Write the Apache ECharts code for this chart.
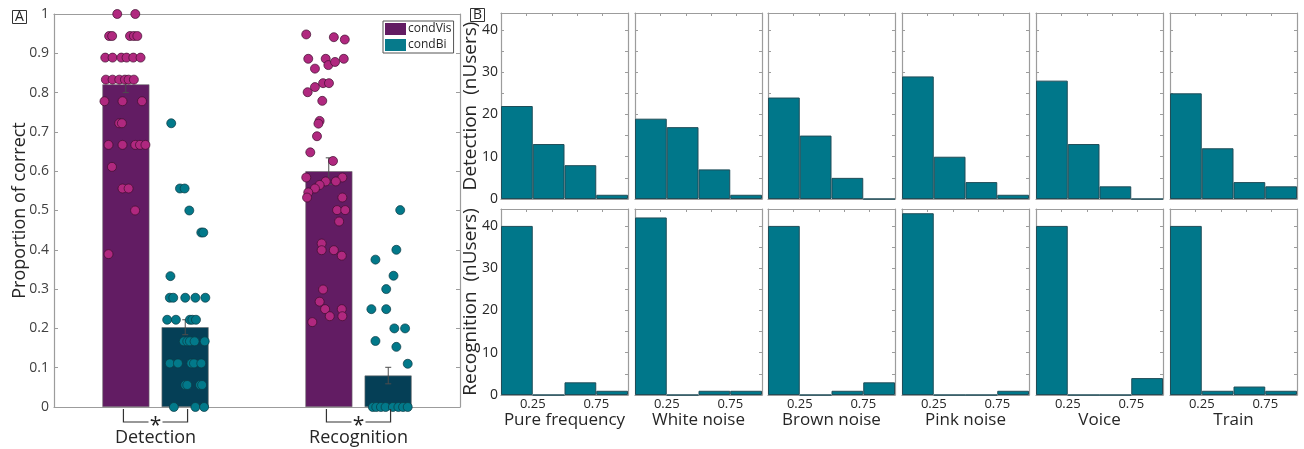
<!DOCTYPE html>
<html>
<head>
<meta charset="utf-8">
<script src="https://cdn.jsdelivr.net/npm/echarts@6/dist/echarts.min.js"></script>
<style>html,body{margin:0;padding:0;background:#fff}#c{width:1304px;height:449px}</style>
</head>
<body>
<div id="c"></div>
<script>
// ---------- Panel A data ----------
const categoriesA = ['Detection', 'Recognition'];
const meanVis = [0.821, 0.600];
const meanBi = [0.203, 0.080];
const seVis = [0.021, 0.034];
const seBi = [0.019, 0.021];

// individual participants (value, horizontal jitter in category units)
const detVisVal = [1,1, 0.944,0.944,0.944,0.944,0.944, 0.889,0.889,0.889,0.889,0.889,0.889,
  0.833,0.833,0.833,0.833,0.833,0.833, 0.778,0.778,0.778, 0.722,0.722,
  0.667,0.667,0.667,0.667,0.667, 0.611, 0.556,0.556, 0.5, 0.389];
const detVisJit = [-0.042,0.047, -0.082,-0.067,0.021,0.040,0.057, -0.101,-0.065,-0.022,0.004,0.037,0.073,
  -0.098,-0.065,-0.032,-0.004,0.014,0.040, -0.105,-0.016,0.080, -0.032,-0.019,
  -0.085,-0.016,0.047,0.070,0.097, -0.068, -0.016,0.014, 0.046, -0.085];

const detBiVal = [0.722, 0.556,0.556, 0.5, 0.444,0.444, 0.333,
  0.278,0.278,0.278,0.278,0.278, 0.222,0.222,0.222,0.222,0.222,
  0.167,0.167,0.167,0.167,0.167, 0.111,0.111,0.111,0.111,0.111,
  0.056,0.056,0.056,0.056, 0,0,0];
const detBiJit = [-0.069, -0.026,-0.003, 0.020, 0.079,0.089, -0.073,
  -0.076,-0.059,0,0.050,0.099, -0.089,-0.046,0.023,0.035,0.053,
  -0.007,0.010,0.023,0.046,0.096, -0.076,-0.036,0.030,0.043,0.079,
  0,0.010,0.073,0.083, -0.056,0.050,0.093];

const recVisVal = [0.948,0.941,0.935, 0.886,0.886,0.886, 0.861,0.870,0.878, 0.801,0.814,0.824,0.824,
  0.779, 0.728,0.721, 0.689, 0.648, 0.626, 0.584,0.584, 0.574,0.574, 0.565, 0.556, 0.546,
  0.533,0.533, 0.501,0.501, 0.472, 0.416, 0.399,0.399, 0.385, 0.299, 0.268, 0.249,0.249,
  0.231,0.231, 0.216];
const recVisJit = [-0.111,0.025,0.079, -0.101,-0.015,0.074, -0.068,-0.002,0.031, -0.104,-0.068,-0.028,0.001,
  -0.032, -0.045,-0.051, -0.058, -0.091, 0.021, -0.111,0.067, -0.015,0.035, -0.045, -0.068, -0.101,
  -0.107,0.067, 0.041,0.081, 0.051, -0.035, -0.035,0.025, 0.064, -0.028, -0.045, -0.018,0.064,
  0.005,0.067, -0.081];

const recBiVal = [0.501, 0.400, 0.375, 0.334, 0.300, 0.249,0.249, 0.200,0.200, 0.168, 0.153, 0.110,
  0,0,0,0,0,0,0,0];
const recBiJit = [0.059, 0.040, -0.063, 0.026, -0.010, -0.083,-0.010, 0.030,0.083, -0.063, 0.040, 0.096,
  -0.076,-0.059,-0.036,-0.013,0.023,0.050,0.073,0.096];

// ---------- Panel B data ----------
const soundNames = ['Pure frequency', 'White noise', 'Brown noise', 'Pink noise', 'Voice', 'Train'];
const binLabels = ['0-0.25', '0.25-0.5', '0.5-0.75', '0.75-1'];
const detCounts = [[22,13,8,1],[19,17,7,1],[24,15,5,0],[29,10,4,1],[28,13,3,0],[25,12,4,3]];
const recCounts = [[40,0,3,1],[42,0,1,1],[40,0,1,3],[43,0,0,1],[40,0,0,4],[40,1,2,1]];
const rowNames = ['Detection  (nUsers)', 'Recognition  (nUsers)'];

// ---------- styling ----------
const FONT = '"Open Sans", "Noto Sans", sans-serif';
const AX = '#9c9c9c';
const TXT = '#262626';
const cVisBar = '#621C63', cBiBar = '#053F56';
const cVisDot = '#B0287F', cBiDot = '#02798A';
const cLegBi = '#067A8B';
const cHist = '#00778A';
const barOff = 0.1465;   // half distance between paired bar centres (category units)

const grids = [], xAxes = [], yAxes = [], series = [];
const line = {show: true, onZero: false, lineStyle: {color: AX, width: 1.2}};

// ---- Panel A grid ----
grids.push({left: 54, top: 14, width: 406, height: 393});
xAxes.push({ // 0 bottom categories
  type: 'category', gridIndex: 0, data: categoriesA, position: 'bottom',
  axisLine: line,
  axisTick: {inside: true, alignWithLabel: true, length: 4, lineStyle: {color: AX}},
  axisLabel: {fontSize: 18, color: TXT, fontFamily: FONT, margin: 22}
});
xAxes.push({ // 1 hidden value axis for overlays
  type: 'value', gridIndex: 0, min: -0.5, max: 1.5, show: false,
  axisLine: {onZero: false}
});
xAxes.push({ // 2 top box line
  type: 'category', gridIndex: 0, data: categoriesA, position: 'top',
  axisLine: line,
  axisTick: {inside: true, alignWithLabel: true, length: 4, lineStyle: {color: AX}},
  axisLabel: {show: false}
});
yAxes.push({
  type: 'value', gridIndex: 0, min: 0, max: 1, interval: 0.1, position: 'left',
  name: 'Proportion of correct', nameLocation: 'middle', nameGap: 25, nameMoveOverlap: false,
  nameTextStyle: {fontSize: 18, color: TXT, fontFamily: FONT},
  axisLine: line,
  axisTick: {show: true, inside: true, length: 4, lineStyle: {color: AX}},
  axisLabel: {fontSize: 14, color: '#404040', fontFamily: FONT, margin: 5,
    formatter: v => (Math.round(v * 10) / 10).toString()},
  splitLine: {show: false}
});
yAxes.push({
  type: 'value', gridIndex: 0, min: 0, max: 1, interval: 0.1, position: 'right',
  axisLine: line,
  axisTick: {show: true, inside: true, length: 4, lineStyle: {color: AX}},
  axisLabel: {show: false}, splitLine: {show: false}
});

series.push({
  name: 'condVis', type: 'bar', xAxisIndex: 0, yAxisIndex: 0, data: meanVis,
  barWidth: 47, barGap: '26%',
  itemStyle: {color: cVisBar, borderColor: '#6e6e6e', borderWidth: 0.6}, z: 2
});
series.push({
  name: 'condBi', type: 'bar', xAxisIndex: 0, yAxisIndex: 0, data: meanBi,
  barWidth: 47, barGap: '26%',
  itemStyle: {color: cBiBar, borderColor: '#6e6e6e', borderWidth: 0.6}, z: 2
});

// error bars
const errData = [];
categoriesA.forEach((c, i) => {
  errData.push([i - barOff, meanVis[i], seVis[i]]);
  errData.push([i + barOff, meanBi[i], seBi[i]]);
});
series.push({
  type: 'custom', xAxisIndex: 1, yAxisIndex: 0, data: errData, z: 3, silent: true,
  renderItem: (params, api) => {
    const x = api.value(0), m = api.value(1), s = api.value(2);
    const t = api.coord([x, m + s]), b = api.coord([x, m - s]);
    const st = {stroke: '#4d4d4d', lineWidth: 1};
    return {type: 'group', children: [
      {type: 'line', shape: {x1: t[0], y1: t[1], x2: b[0], y2: b[1]}, style: st},
      {type: 'line', shape: {x1: t[0] - 3, y1: t[1], x2: t[0] + 3, y2: t[1]}, style: st},
      {type: 'line', shape: {x1: b[0] - 3, y1: b[1], x2: b[0] + 3, y2: b[1]}, style: st}
    ]};
  }
});

function pts(vals, jit, idx, side) {
  return vals.map((v, k) => [idx + side * barOff + jit[k], v]);
}
const dotVis = pts(detVisVal, detVisJit, 0, -1).concat(pts(recVisVal, recVisJit, 1, -1));
const dotBi = pts(detBiVal, detBiJit, 0, 1).concat(pts(recBiVal, recBiJit, 1, 1));
series.push({
  type: 'scatter', xAxisIndex: 1, yAxisIndex: 0, data: dotVis, symbolSize: 9, z: 4,
  itemStyle: {color: cVisDot, borderColor: '#3d0f2e', borderWidth: 0.7, opacity: 1}
});
series.push({
  type: 'scatter', xAxisIndex: 1, yAxisIndex: 0, data: dotBi, symbolSize: 9, z: 4,
  itemStyle: {color: cBiDot, borderColor: '#0d3a44', borderWidth: 0.7, opacity: 1}
});

// significance brackets
series.push({
  type: 'custom', xAxisIndex: 1, yAxisIndex: 0, data: categoriesA.map((c, i) => [i]),
  clip: false, silent: true, z: 5,
  renderItem: (params, api) => {
    const i = api.value(0);
    const a = api.coord([i - 0.158, 0]), b = api.coord([i + 0.158, 0]);
    const y0 = a[1] + 2, y1 = a[1] + 15, mid = (a[0] + b[0]) / 2;
    const st = {stroke: '#333', lineWidth: 1.2, fill: null};
    return {type: 'group', children: [
      {type: 'polyline', shape: {points: [[a[0], y0], [a[0], y1], [mid - 7, y1]]}, style: st},
      {type: 'polyline', shape: {points: [[mid + 7, y1], [b[0], y1], [b[0], y0]]}, style: st},
      {type: 'text', x: mid, y: y1 + 4, style: {text: '*', fontSize: 21, fontFamily: FONT,
        fill: '#222', align: 'center', verticalAlign: 'middle'}}
    ]};
  }
});

// ---- Panel B grids ----
const colLeft = [501, 635, 768, 902, 1036, 1170];
const rowTop = [13, 209];
const counts = [detCounts, recCounts];
rowTop.forEach((top, r) => {
  colLeft.forEach((left, c) => {
    const g = grids.length;
    grids.push({left: left, top: top, width: 127, height: 186});
    const xCat = xAxes.length;
    xAxes.push({type: 'category', gridIndex: g, data: binLabels, show: false, boundaryGap: true,
      axisLine: {onZero: false}});
    xAxes.push({
      type: 'value', gridIndex: g, min: 0, max: 1, interval: 0.25, position: 'bottom',
      axisLine: line,
      axisTick: {show: false},
      axisLabel: {show: r === 1, fontSize: 13, color: TXT, fontFamily: FONT, margin: 3,
        showMinLabel: false, showMaxLabel: false,
        formatter: v => (Math.abs(v - 0.25) < 1e-6 || Math.abs(v - 0.75) < 1e-6) ? v.toFixed(2) : ''},
      splitLine: {show: false},
      name: r === 1 ? soundNames[c] : '', nameLocation: 'middle', nameGap: 16,
      nameTextStyle: {fontSize: 17, color: TXT, fontFamily: FONT}
    });
    xAxes.push({
      type: 'value', gridIndex: g, min: 0, max: 1, interval: 0.2, position: 'top',
      axisLine: line,
      axisTick: {show: true, inside: true, length: 3, lineStyle: {color: AX}},
      axisLabel: {show: false}, splitLine: {show: false}
    });
    const yL = yAxes.length;
    yAxes.push({
      type: 'value', gridIndex: g, min: 0, max: 44, interval: 5, position: 'left',
      axisLine: line,
      axisTick: {show: true, inside: true, length: 3, lineStyle: {color: AX}},
      axisLabel: {show: c === 0, fontSize: 14, color: TXT, fontFamily: FONT, margin: 3,
        showMaxLabel: false, formatter: v => (v % 10 === 0 ? String(v) : '')},
      splitLine: {show: false},
      name: c === 0 ? rowNames[r] : '', nameLocation: 'middle', nameGap: 21, nameMoveOverlap: false,
      nameTextStyle: {fontSize: 19, color: TXT, fontFamily: FONT}
    });
    yAxes.push({
      type: 'value', gridIndex: g, min: 0, max: 44, interval: 5, position: 'right',
      axisLine: line,
      axisTick: {show: true, inside: true, length: 3, lineStyle: {color: AX}},
      axisLabel: {show: false}, splitLine: {show: false}
    });
    series.push({
      type: 'bar', xAxisIndex: xCat, yAxisIndex: yL, data: counts[r][c],
      barCategoryGap: '0%', silent: true,
      itemStyle: {color: cHist, borderColor: '#1f4d58', borderWidth: 1}
    });
  });
});

const chart = echarts.init(document.getElementById('c'), null, {renderer: 'canvas'});
chart.setOption({
  animation: false,
  backgroundColor: '#fff',
  title: [
    {text: 'A', left: 12, top: 10, padding: [0, 3, 0, 3], borderColor: '#333', borderWidth: 1,
      textStyle: {fontSize: 14, fontWeight: 'normal', color: TXT, fontFamily: FONT}},
    {text: 'B', left: 470, top: 8, padding: [0, 3, 0, 3], borderColor: '#333', borderWidth: 1,
      textStyle: {fontSize: 14, fontWeight: 'normal', color: TXT, fontFamily: FONT}}
  ],
  legend: {
    left: 383, top: 21, orient: 'vertical', itemWidth: 21, itemHeight: 12, itemGap: 4,
    padding: [2, 2, 2, 2], borderColor: '#555', borderWidth: 1, icon: 'rect', backgroundColor: '#fff',
    textStyle: {fontSize: 12, color: TXT, fontFamily: FONT, padding: [0, 0, 0, -3]},
    data: [
      {name: 'condVis', itemStyle: {color: cVisBar, borderWidth: 0}},
      {name: 'condBi', itemStyle: {color: cLegBi, borderWidth: 0}}
    ]
  },
  grid: grids, xAxis: xAxes, yAxis: yAxes, series: series
});
</script>
</body>
</html>
